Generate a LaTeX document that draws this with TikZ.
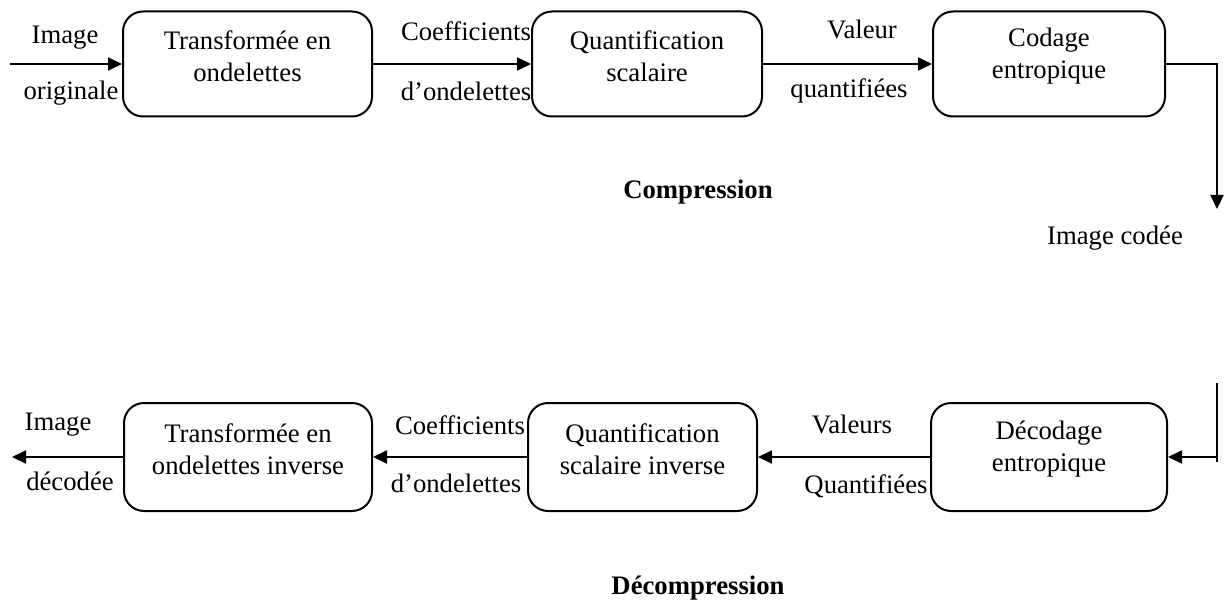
\documentclass[tikz,border=0pt]{standalone}
\usepackage{fontspec}
\setmainfont{Liberation Serif}
\usetikzlibrary{arrows.meta}
\begin{document}
\begin{tikzpicture}[x=0.5pt,y=-0.5pt,
  font=\fontsize{13.35}{16}\selectfont,
  procbox/.style={draw, line width=1pt, rounded corners=10pt, inner sep=0pt},
  boxtext/.style={align=center, inner sep=0pt},
  lbl/.style={inner sep=0pt},
  title/.style={inner sep=0pt, font=\fontsize{13.35}{16}\selectfont\bfseries},
  arr/.style={line width=1pt, -{Triangle[length=7pt,width=6.5pt]}},
  ln/.style={line width=1pt}]
\useasboundingbox (0,0) rectangle (1229,604);
% ---------- top row (compression)
\node[procbox, minimum width=124.5pt, minimum height=52.5pt] (b1) at (247.5,64) {};
\node[procbox, minimum width=115pt, minimum height=52.5pt] (b2) at (647,64) {};
\node[procbox, minimum width=116pt, minimum height=52.5pt] (b3) at (1049,64) {};
\node[boxtext] (t1) at ([yshift=4pt]b1.center) {Transformée en\\ondelettes};
\node[boxtext] (t2) at ([yshift=4pt]b2.center) {Quantification\\scalaire};
\node[boxtext] (t3) at ([yshift=4pt]b3.center) {Codage\\entropique};
\coordinate (in1) at (10,64);
\draw[arr] (in1) -- (b1.west);
\draw[arr] (b1.east) -- (b2.west);
\draw[arr] (b2.east) -- (b3.west);
\coordinate (down1) at (1217,209);
\draw[arr] (b3.east) -| (down1);
\node[lbl] (l1) at (65,38) {Image};
\node[lbl] (l2) at (71,93) {originale};
\node[lbl] (l3) at (466,31) {Coefficients};
\node[lbl] (l4) at (466,91) {d’ondelettes};
\node[lbl] (l5) at (862,29) {Valeur};
\node[lbl] (l6) at (849,91) {quantifiées};
\node[title] (tc) at (698,192) {Compression};
\node[lbl] (l7) at (1115,238) {Image codée};
% ---------- bottom row (decompression)
\node[procbox, minimum width=124pt, minimum height=54pt] (b4) at (248,457) {};
\node[procbox, minimum width=114.5pt, minimum height=54pt] (b5) at (642.5,457) {};
\node[procbox, minimum width=118pt, minimum height=54pt] (b6) at (1049,457) {};
\node[boxtext] (t4) at ([yshift=4pt]b4.center) {Transformée en\\ondelettes inverse};
\node[boxtext] (t5) at ([yshift=4pt]b5.center) {Quantification\\scalaire inverse};
\node[boxtext] (t6) at ([yshift=4pt]b6.center) {Décodage\\entropique};
\coordinate (vtop) at (1217,383);
\coordinate (vbot) at (1217,462);
\coordinate (vmid) at (1217,457);
\draw[ln] (vtop) -- (vbot);
\draw[arr] (vmid) -- (b6.east);
\draw[arr] (b6.west) -- (b5.east);
\draw[arr] (b5.west) -- (b4.east);
\coordinate (out1) at (12,457);
\draw[arr] (b4.west) -- (out1);
\node[lbl] (m1) at (58,425) {Image};
\node[lbl] (m2) at (70,481) {décodée};
\node[lbl] (m3) at (460,425) {Coefficients};
\node[lbl] (m4) at (456,483) {d’ondelettes};
\node[lbl] (m5) at (852,424) {Valeurs};
\node[lbl] (m6) at (866,486) {Quantifiées};
\node[title] (td) at (698,588) {Décompression};
\end{tikzpicture}
\end{document}
